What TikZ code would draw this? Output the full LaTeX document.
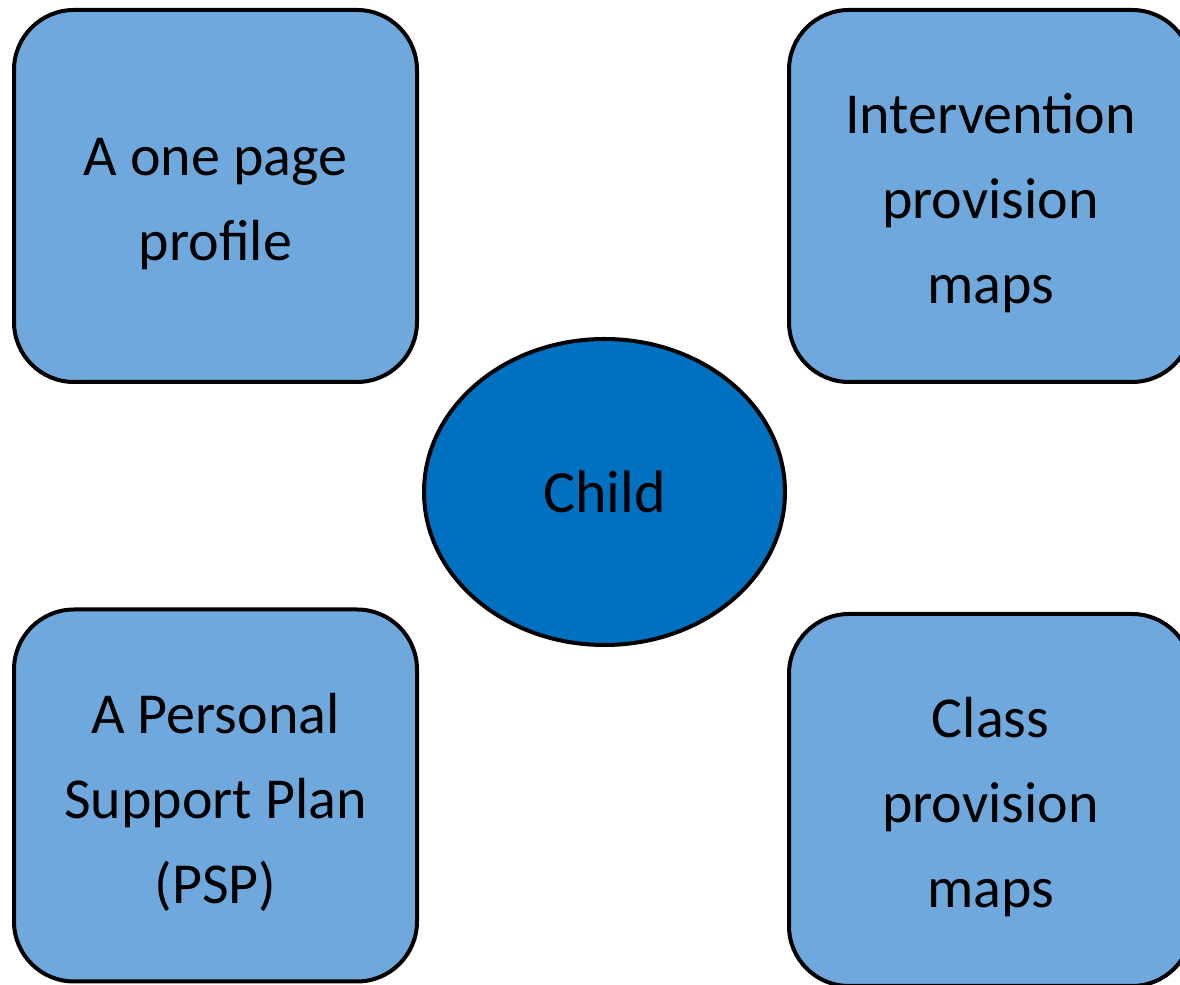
\documentclass[tikz,border=0pt]{standalone}
\usepackage{fontspec}
\setmainfont{Carlito}
\usetikzlibrary{shapes.geometric}
\definecolor{cardblue}{HTML}{6FA8DC}
\definecolor{childblue}{HTML}{0070C0}
% extra room above the first line, pushes card text down a little
\newcommand{\cardgap}{\rule{0pt}{27pt}}
\begin{document}
\begin{tikzpicture}[x=0.5pt,y=0.5pt,
  card/.style={draw,line width=2pt,fill=cardblue,rounded corners=30pt,
    minimum width=201.5pt,minimum height=186pt,inner sep=0pt,align=center,
    font=\fontsize{29}{42.5}\selectfont},
  hub/.style={ellipse,draw,line width=2pt,fill=childblue,
    minimum width=180.5pt,minimum height=153pt,inner sep=0pt,
    font=\fontsize{30}{36}\selectfont}]
\useasboundingbox (0,0) rectangle (1180,985);
\node[card] (profile) at (215.5,789) {\cardgap A one page\\profile};
\node[card] (intervention) at (990.5,789) {\cardgap Intervention\\provision\\maps};
\node[card] (psp) at (215.5,189.5) {\cardgap A Personal\\Support Plan\\(PSP)};
\node[card] (class) at (990.5,185) {\cardgap Class\\provision\\maps};
\node[hub] (child) at (604.5,493) {Child};
\end{tikzpicture}
\end{document}
